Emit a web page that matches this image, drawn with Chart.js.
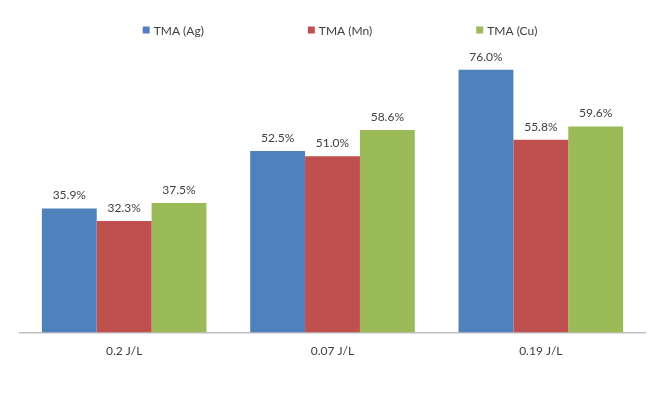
<!DOCTYPE html>
<html>
<head>
<meta charset="utf-8">
<script src="https://cdn.jsdelivr.net/npm/chart.js@4/dist/chart.umd.min.js"></script>
<style>
  html, body { margin: 0; padding: 0; background: #ffffff; }
  #wrap { width: 667px; height: 404px; position: relative; }
</style>
</head>
<body>
<div id="wrap"><canvas id="c"></canvas></div>
<script>
const categories = ["0.2 J/L", "0.07 J/L", "0.19 J/L"];
const seriesNames = ["TMA (Ag)", "TMA (Mn)", "TMA (Cu)"];
const agValues = [35.9, 52.5, 76.0];
const mnValues = [32.3, 51.0, 55.8];
const cuValues = [37.5, 58.6, 59.6];
const seriesColors = ["#4F81BD", "#C0504D", "#9BBB59"];

const FONT = '12px Lato, "Open Sans", sans-serif';

const labelPlugin = {
  id: 'barLabels',
  afterDatasetsDraw(chart) {
    const ctx = chart.ctx;
    ctx.save();
    ctx.font = FONT;
    ctx.fillStyle = '#404040';
    ctx.textAlign = 'center';
    ctx.textBaseline = 'bottom';
    chart.data.datasets.forEach((ds, i) => {
      const meta = chart.getDatasetMeta(i);
      meta.data.forEach((bar, j) => {
        ctx.fillText(ds.data[j].toFixed(1) + '%', bar.x, bar.y - 7);
      });
    });
    ctx.restore();
  }
};

// Custom legend: widely spaced items, centred slightly right of canvas centre
const legendPlugin = {
  id: 'wideLegend',
  afterDraw(chart) {
    const ctx = chart.ctx;
    ctx.save();
    ctx.font = FONT;
    const box = 7, gapBox = 4, gapItem = 104, yc = 30;
    const items = chart.data.datasets.map(ds => ({
      label: ds.label, color: ds.backgroundColor,
      w: box + gapBox + ctx.measureText(ds.label).width
    }));
    const total = items.reduce((s, it) => s + it.w, 0) + gapItem * (items.length - 1);
    let x = 340 - total / 2;
    ctx.textBaseline = 'middle';
    ctx.textAlign = 'left';
    items.forEach(it => {
      ctx.fillStyle = it.color;
      ctx.fillRect(x, yc - box / 2, box, box);
      ctx.fillStyle = '#404040';
      ctx.fillText(it.label, x + box + gapBox, yc + 1);
      x += it.w + gapItem;
    });
    ctx.restore();
  }
};

const allSeries = [agValues, mnValues, cuValues];
new Chart(document.getElementById('c'), {
  type: 'bar',
  data: {
    labels: categories,
    datasets: allSeries.map((vals, i) => ({
      label: seriesNames[i],
      data: vals,
      backgroundColor: seriesColors[i],
      borderWidth: 0,
      barPercentage: 1.0,
      categoryPercentage: 0.79
    }))
  },
  options: {
    responsive: true,
    maintainAspectRatio: false,
    animation: false,
    layout: { padding: { top: 56, left: 20, right: 22, bottom: 35 } },
    plugins: {
      legend: { display: false },
      tooltip: { enabled: false }
    },
    scales: {
      x: {
        grid: { display: false, drawTicks: false },
        border: { display: true, color: '#BFBFBF', width: 1.5 },
        ticks: {
          color: '#404040',
          padding: 11,
          font: { family: 'Lato, "Open Sans", sans-serif', size: 12 }
        }
      },
      y: {
        display: false,
        min: 0,
        max: 80
      }
    }
  },
  plugins: [labelPlugin, legendPlugin]
});
</script>
</body>
</html>
